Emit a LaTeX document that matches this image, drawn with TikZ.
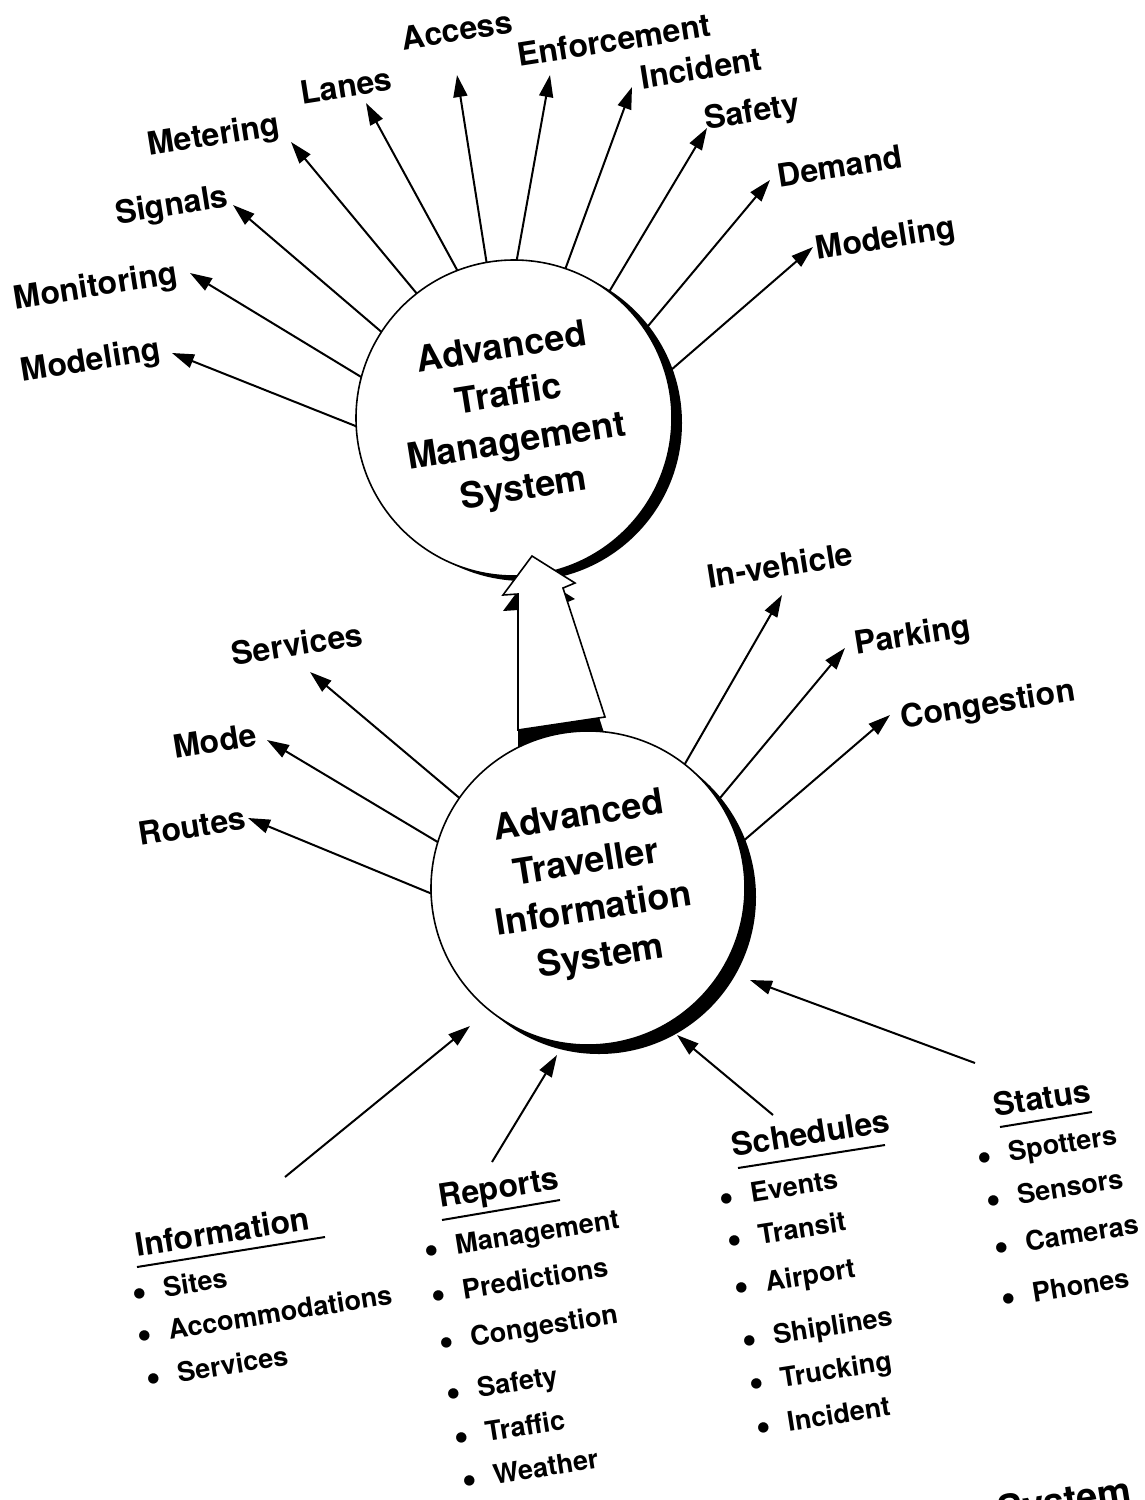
\documentclass[tikz,border=0pt]{standalone}
\usepackage{fontspec}
\setmainfont{TeX Gyre Heros}
\usetikzlibrary{arrows.meta}
\newcommand\bul{\makebox[4.7pt]{\raisebox{-2.4pt}{\fontsize{21}{21}\selectfont\textbullet}}\hspace{10pt}}
\begin{document}
\begin{tikzpicture}[x=0.5pt,y=-0.5pt,
  lbl/.style={font=\fontsize{16}{19}\selectfont\bfseries, inner sep=0pt, rotate=9},
  hd/.style={font=\fontsize{16}{19}\selectfont\bfseries, inner sep=0pt, rotate=9, anchor=base west},
  item/.style={font=\fontsize{13.5}{16}\selectfont\bfseries, inner sep=0pt, rotate=9, anchor=base west},
  ctext/.style={font=\fontsize{18}{23.7}\selectfont\bfseries, align=center, inner sep=0pt, rotate=9},
  sysc/.style={circle, draw=black, line width=0.8pt, fill=white, inner sep=0pt, outer sep=0pt},
  shd/.style={circle, fill=black, inner sep=0pt, outer sep=0pt},
  arr/.style={line width=1pt, -{Triangle[length=11pt,width=7pt]}},
  uline/.style={line width=1pt},
]
\useasboundingbox (0,0) rectangle (1145,1500);
\fill[white] (0,0) rectangle (1145,1500);

% ---- ATMS circle
\node[shd, minimum size=158pt] (atmsShadow) at (524,423) {};
\node[sysc, minimum size=158pt] (atms) at (514,418) {};
\node[ctext] (atmsText) at (513,420) {Advanced\\Traffic\\Management\\System};

% ---- big hollow arrow (3D)
\fill[black] (532,572) -- (575,599) -- (563,604) -- (605,736) -- (518,751) -- (518,610) -- (503,611) -- cycle;
\filldraw[fill=white, draw=black, line width=0.8pt, line join=miter]
  (532,556) -- (575,583) -- (563,588) -- (605,717) -- (518,730) -- (518,594) -- (503,595) -- cycle;

% ---- ATIS circle
\node[shd, minimum size=157pt] (atisShadow) at (599,897) {};
\node[sysc, minimum size=157pt] (atis) at (588,888) {};
\node[ctext] (atisText) at (590,888) {Advanced\\Traveller\\Information\\System};

% ---- ATMS labels
\node[lbl] (lModL) at (91,362) {Modeling};
\node[lbl] (lMon) at (96,288) {Monitoring};
\node[lbl] (lSig) at (172,207) {Signals};
\node[lbl] (lMet) at (214,137) {Metering};
\node[lbl] (lLan) at (346,86) {Lanes};
\node[lbl] (lAcc) at (457,30) {Access};
\node[lbl] (lEnf) at (614,40) {Enforcement};
\node[lbl] (lInc) at (701,68) {Incident};
\node[lbl] (lSaf) at (752,114) {Safety};
\node[lbl] (lDem) at (840,166) {Demand};
\node[lbl] (lModR) at (886,240) {Modeling};

\coordinate (t1) at (172,353);
\coordinate (t2) at (190,273);
\coordinate (t3) at (233,205);
\coordinate (t4) at (291,142);
\coordinate (t5) at (366,103);
\coordinate (t6) at (457,75);
\coordinate (t7) at (550,75);
\coordinate (t8) at (632,87);
\coordinate (t9) at (707,128);
\coordinate (t10) at (770,180);
\coordinate (t11) at (813,247);

\draw[arr] (atms.183.5) -- (t1);
\draw[arr] (atms.165.5) -- (t2);
\draw[arr] (atms.147.3) -- (t3);
\draw[arr] (atms.128.6) -- (t4);
\draw[arr] (atms.111.4) -- (t5);
\draw[arr] (atms.100.2) -- (t6);
\draw[arr] (atms.89.6) -- (t7);
\draw[arr] (atms.71.3) -- (t8);
\draw[arr] (atms.53.1) -- (t9);
\draw[arr] (atms.34.8) -- (t10);
\draw[arr] (atms.16.8) -- (t11);

% ---- ATIS output labels
\node[lbl] (lSrv) at (297,644) {Services};
\node[lbl] (lMode) at (215,741) {Mode};
\node[lbl] (lRou) at (192,826) {Routes};
\node[lbl] (lInv) at (780,565) {In-vehicle};
\node[lbl] (lPark) at (913,637) {Parking};
\node[lbl] (lCong) at (988,706) {Congestion};

\coordinate (u1) at (310,672);
\coordinate (u2) at (267,740);
\coordinate (u3) at (248,818);
\coordinate (u4) at (782,595);
\coordinate (u5) at (845,648);
\coordinate (u6) at (890,715);

\draw[arr] (atis.145) -- (u1);
\draw[arr] (atis.163.8) -- (u2);
\draw[arr] (atis.182.5) -- (u3);
\draw[arr] (atis.52.8) -- (u4);
\draw[arr] (atis.34.6) -- (u5);
\draw[arr] (atis.16.7) -- (u6);

% ---- inputs
\coordinate (s1) at (285,1177);
\coordinate (e1) at (470,1026);
\coordinate (s2) at (492,1162);
\coordinate (e2) at (557,1055);
\coordinate (s3) at (773,1115);
\coordinate (e3) at (677,1035);
\coordinate (s4) at (975,1063);
\coordinate (e4) at (750,980);
\draw[arr] (s1) -- (e1);
\draw[arr] (s2) -- (e2);
\draw[arr] (s3) -- (e3);
\draw[arr] (s4) -- (e4);

% ---- headings
\node[hd] (hInfo) at (137,1257) {Information};
\node[hd] (hRep) at (440,1208) {Reports};
\node[hd] (hSch) at (733,1157) {Schedules};
\node[hd] (hSta) at (995,1117) {Status};
\draw[uline] (137,1267) -- (325,1237);
\draw[uline] (442,1220) -- (560,1200);
\draw[uline] (738,1168) -- (885,1145);
\draw[uline] (1000,1127) -- (1092,1112);

% ---- items
\node[item] (i1a) at (135.5,1302) {\bul Sites};
\node[item] (i1b) at (140.5,1344) {\bul Accommodations};
\node[item] (i1c) at (149.5,1387) {\bul Services};

\node[item] (i2a) at (427.5,1259) {\bul Management};
\node[item] (i2b) at (434.5,1304) {\bul Predictions};
\node[item] (i2c) at (442.5,1351) {\bul Congestion};
\node[item] (i2d) at (449.5,1402) {\bul Safety};
\node[item] (i2e) at (457.5,1446) {\bul Traffic};
\node[item] (i2f) at (465.5,1489) {\bul Weather};

\node[item] (i3a) at (722.5,1207) {\bul Events};
\node[item] (i3b) at (730.5,1249) {\bul Transit};
\node[item] (i3c) at (737.5,1296) {\bul Airport};
\node[item] (i3d) at (745.5,1349) {\bul Shiplines};
\node[item] (i3e) at (752.5,1392) {\bul Trucking};
\node[item] (i3f) at (759.5,1436) {\bul Incident};

\node[item] (i4a) at (980.5,1166) {\bul Spotters};
\node[item] (i4b) at (989.5,1209) {\bul Sensors};
\node[item] (i4c) at (997.5,1256) {\bul Cameras};
\node[item] (i4d) at (1004.5,1307) {\bul Phones};

% ---- cut-off title at the bottom edge
\node[font=\fontsize{19}{22}\selectfont\bfseries, inner sep=0pt, rotate=9, anchor=base west] (sysPart) at (1000,1524) {System};
\end{tikzpicture}
\end{document}
